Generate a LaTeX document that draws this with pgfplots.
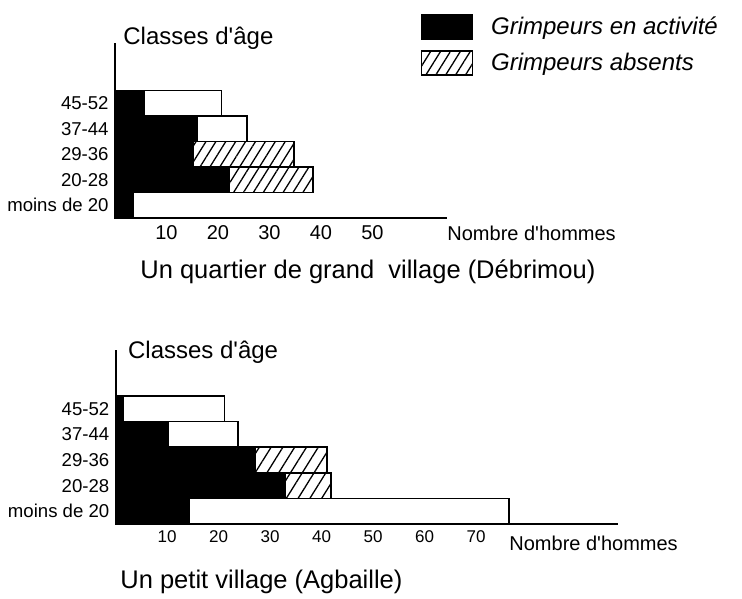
\documentclass[border=0pt]{standalone}
\usepackage{pgfplots}
\pgfplotsset{compat=1.18}
\usepackage{pgfplotstable}
\usepackage{fontspec}
\setmainfont{Liberation Sans}
\usetikzlibrary{patterns.meta}

\pgfplotstableread{
cat active absent other
0 3.6 0 0
1 22.2 16.3 0
2 15.2 19.6 0
3 16.0 0 9.7
4 5.6 0 15.1
}\debrimou
\pgfplotstableread{
cat active absent other
0 14.3 0 62.1
1 33.0 8.8 0
2 27.0 14.0 0
3 10.2 0 13.5
4 1.5 0 19.6
}\agbaille

\pgfplotsset{
  agechart/.style={
    scale only axis,
    xbar stacked,
    bar width=1,
    axis lines*=left,
    axis line style={line width=1pt},
    enlargelimits=false,
    ymin=-0.5,
    ytick={0,1,2,3,4},
    yticklabels={moins de 20,20-28,29-36,37-44,45-52},
    major tick length=0pt,
    /pgf/number format/assume math mode=true,
    yticklabel style={font=\fontsize{9.3}{10}\selectfont, inner sep=1pt, xshift=-2pt},
    clip=false,
  },
}
\begin{document}
\begin{tikzpicture}
\useasboundingbox (0,0) rectangle (371pt,-299pt);
\begin{axis}[agechart,
  at={(57.5pt,-109pt)}, anchor=south west,
  width=166pt, height=87.5pt,
  xmin=0, xmax=64.5, ymax=6.36,
  xtick={10,20,30,40,50},
  xticklabel style={font=\fontsize{10}{11}\selectfont},
  xlabel={Nombre d\textquotesingle hommes},
  xlabel style={at={(axis description cs:1,0)}, anchor=west, inner sep=0pt, yshift=-7.5pt, font=\fontsize{10}{12}\selectfont},
  legend style={at={(axis description cs:0.919,1.177)}, anchor=north west, draw=none, fill=none, inner sep=0pt, row sep=4pt, column sep=7pt, font=\itshape\fontsize{12}{14}\selectfont},
  legend cell align=left,
  legend image code/.code={\draw[#1,line width=0.8pt] (0pt,-6pt) rectangle (25.5pt,6pt);},
]
\addplot[fill=black, draw=black, line width=0.8pt] table[x=active,y=cat]{\debrimou};
\addlegendentry{Grimpeurs en activité}
\addplot[draw=black, line width=0.8pt, pattern={Lines[angle=58,distance=4.2pt,line width=0.65pt]}] table[x=absent,y=cat]{\debrimou};
\addlegendentry{Grimpeurs absents}
\addplot[draw=black, fill=white, line width=0.8pt] table[x=other,y=cat]{\debrimou};
\node[anchor=west, inner sep=0pt, font=\fontsize{12}{14}\selectfont] at ([xshift=4pt,yshift=2.5pt]rel axis cs:0,1) {Classes d\textquotesingle âge};
\end{axis}

\begin{axis}[agechart,
  at={(57.85pt,-262pt)}, anchor=south west,
  width=251.3pt, height=87pt,
  xmin=0, xmax=97.6, ymax=6.3,
  xtick={10,20,30,40,50,60,70},
  xticklabel style={font=\fontsize{8.5}{10}\selectfont},
  xlabel={Nombre d\textquotesingle hommes},
  xlabel style={at={(axis description cs:0.7825,0)}, anchor=west, inner sep=0pt, yshift=-9.5pt, font=\fontsize{10}{12}\selectfont},
]
\addplot[fill=black, draw=black, line width=0.8pt] table[x=active,y=cat]{\agbaille};
\addplot[draw=black, line width=0.8pt, pattern={Lines[angle=58,distance=5pt,line width=0.65pt]}] table[x=absent,y=cat]{\agbaille};
\addplot[draw=black, fill=white, line width=0.8pt] table[x=other,y=cat]{\agbaille};
\node[anchor=west, inner sep=0pt, font=\fontsize{12}{14}\selectfont] at ([xshift=6pt,yshift=-1pt]rel axis cs:0,1) {Classes d\textquotesingle âge};
\end{axis}

\node[anchor=west, inner sep=0pt, font=\fontsize{12.75}{15}\selectfont] at (70pt,-136pt) {Un quartier de grand\ \ village (Débrimou)};
\node[anchor=west, inner sep=0pt, font=\fontsize{12.75}{15}\selectfont] at (60pt,-291pt) {Un petit village (Agbaille)};
\end{tikzpicture}
\end{document}
